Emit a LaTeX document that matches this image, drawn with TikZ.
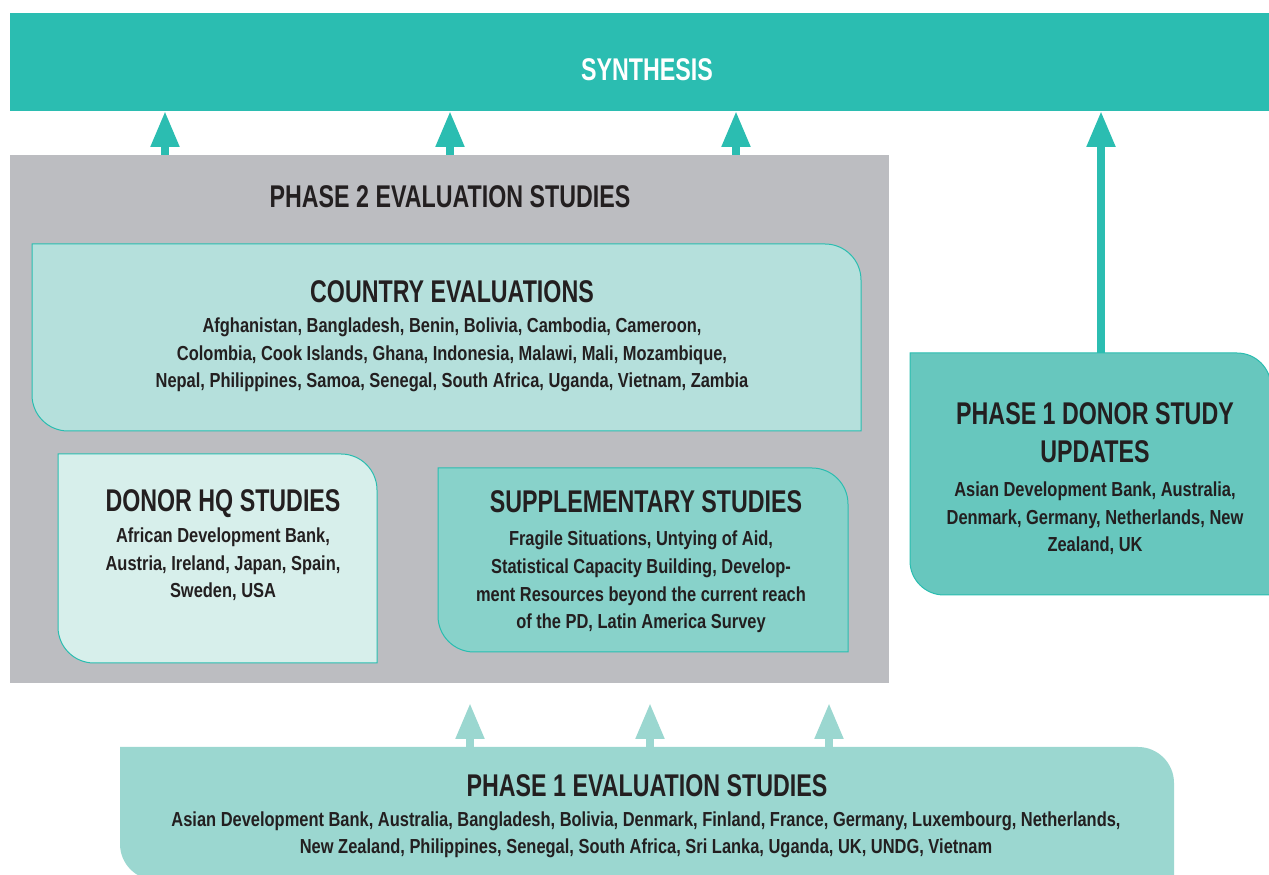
\documentclass[tikz,border=0pt]{standalone}
\usepackage{fontspec}
\setmainfont{Liberation Sans}
\newfontfamily\titlefam{Liberation Sans}[FakeStretch=0.74]
\newfontfamily\bodyfam{Liberation Sans}[FakeStretch=0.81]
\usetikzlibrary{arrows.meta}
\definecolor{synthc}{HTML}{2BBDB1}
\definecolor{grayc}{HTML}{BCBDC1}
\definecolor{ctyc}{HTML}{B5E0DC}
\definecolor{hqc}{HTML}{D7EFEB}
\definecolor{supc}{HTML}{88D2CA}
\definecolor{donc}{HTML}{67C7BE}
\definecolor{p1c}{HTML}{9BD7D0}
\definecolor{edgec}{HTML}{2ABDB0}
\definecolor{txtc}{HTML}{231F20}
\newcommand\leafshape[3]{%
  \path[#3] (#1.north west) -- ([xshift=-#2]#1.north east)
    arc[start angle=90,end angle=0,radius=#2] -- (#1.south east)
    -- ([xshift=#2]#1.south west)
    arc[start angle=270,end angle=180,radius=#2] -- cycle;}
\tikzset{
  area/.style={rectangle, inner sep=0pt, outer sep=0pt},
  ttl/.style={anchor=base, inner sep=0pt, text=txtc, align=center,
    font=\titlefam\bfseries\fontsize{31.4}{38}\selectfont},
  bdy/.style={anchor=base, inner sep=0pt, text=txtc, align=center,
    font=\bodyfam\bfseries\fontsize{20.3}{27.8}\selectfont},
  uparrow/.style={line width=8pt, draw=synthc,
    -{Triangle[width=27pt,length=36pt]}},
  lowarrow/.style={line width=8pt, draw=p1c,
    -{Triangle[width=27pt,length=36pt]}},
  edged/.style={draw=edgec, line width=1pt}
}
\begin{document}
\begin{tikzpicture}[x=1pt,y=1pt]
\useasboundingbox (0,0) rectangle (1269,875);
% areas
\node[area, fill=synthc, minimum width=1274pt, minimum height=98pt] (synth) at (647,813) {};
\node[area, fill=grayc, minimum width=879pt, minimum height=528pt] (p2) at (449.5,456) {};
\node[area, minimum width=829pt, minimum height=187pt] (cty) at (446.5,537.5) {};
\node[area, minimum width=319pt, minimum height=209pt] (hq) at (217.5,316.5) {};
\node[area, minimum width=410pt, minimum height=184pt] (sup) at (643,315) {};
\node[area, minimum width=361pt, minimum height=242pt] (don) at (1090.5,401) {};
\node[area, minimum width=1054pt, minimum height=133pt] (p1) at (647,61.5) {};
\leafshape{cty}{36pt}{fill=ctyc, edged}
\leafshape{hq}{36pt}{fill=hqc, edged}
\leafshape{sup}{36pt}{fill=supc, edged}
\leafshape{don}{34pt}{fill=donc, edged}
\leafshape{p1}{36pt}{fill=p1c}
% arrow columns
\coordinate (a1) at (165,0);
\coordinate (a2) at (450,0);
\coordinate (a3) at (736,0);
\coordinate (a4) at (1101,0);
\coordinate (b1) at (470,172);
\coordinate (b2) at (650,172);
\coordinate (b3) at (829,172);
\draw[uparrow] (p2.north -| a1) -- (synth.south -| a1);
\draw[uparrow] (p2.north -| a2) -- (synth.south -| a2);
\draw[uparrow] (p2.north -| a3) -- (synth.south -| a3);
\draw[uparrow] (don.north -| a4) -- (synth.south -| a4);
\draw[lowarrow] (p1.north -| b1) -- (b1);
\draw[lowarrow] (p1.north -| b2) -- (b2);
\draw[lowarrow] (p1.north -| b3) -- (b3);
% texts (anchor=base is the baseline of the last line)
\node[ttl, text=white] (synthtxt) at (647,794) {SYNTHESIS};
\node[ttl] (p2txt) at (450,667) {PHASE 2 EVALUATION STUDIES};
\node[ttl] (ctytxt) at (452,572) {COUNTRY EVALUATIONS};
\node[bdy] (ctybody) at (452,487) {Afghanistan, Bangladesh, Benin, Bolivia, Cambodia, Cameroon,\\
Colombia, Cook Islands, Ghana, Indonesia, Malawi, Mali, Mozambique,\\
Nepal, Philippines, Samoa, Senegal, South Africa, Uganda, Vietnam, Zambia};
\node[ttl] (hqtxt) at (223,363) {DONOR HQ STUDIES};
\node[bdy] (hqbody) at (223,277) {African Development Bank,\\
Austria, Ireland, Japan, Spain,\\
Sweden, USA};
\node[ttl] (suptxt) at (646,362) {SUPPLEMENTARY STUDIES};
\node[bdy] (supbody) at (641,246) {Fragile Situations, Untying of Aid,\\
Statistical Capacity Building, Develop-\\
ment Resources beyond the current reach\\
of the PD, Latin America Survey};
\node[ttl] (dontxt) at (1095,412) {PHASE 1 DONOR STUDY\\UPDATES};
\node[bdy] (donbody) at (1095,323) {Asian Development Bank, Australia,\\
Denmark, Germany, Netherlands, New\\
Zealand, UK};
\node[ttl] (p1txt) at (647,78) {PHASE 1 EVALUATION STUDIES};
\node[bdy] (p1body) at (646,21) {Asian Development Bank, Australia, Bangladesh, Bolivia, Denmark, Finland, France, Germany, Luxembourg, Netherlands,\\
New Zealand, Philippines, Senegal, South Africa, Sri Lanka, Uganda, UK, UNDG, Vietnam};
\end{tikzpicture}
\end{document}
